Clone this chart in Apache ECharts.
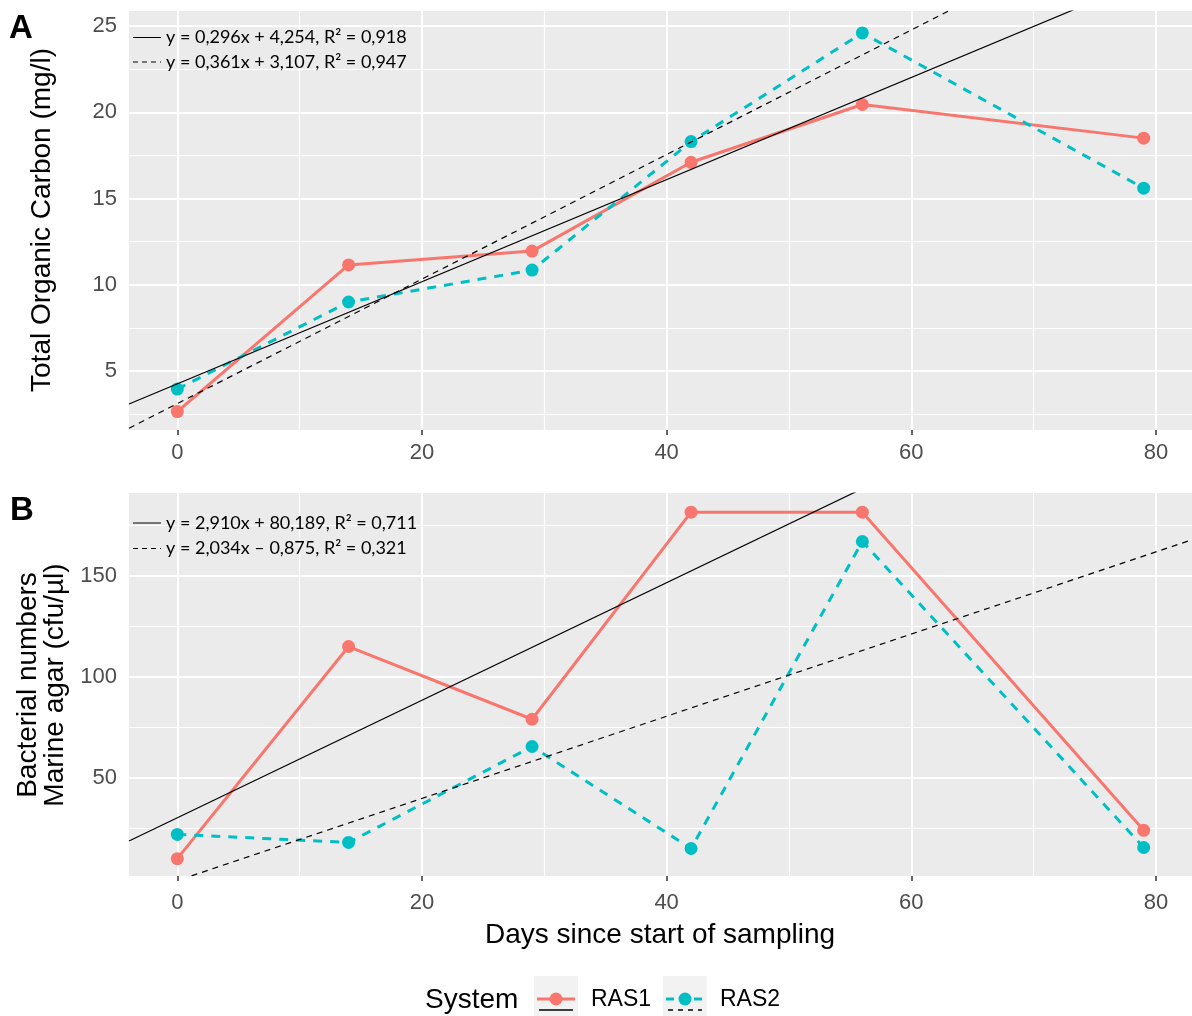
<!DOCTYPE html>
<html>
<head>
<meta charset="utf-8">
<script src="https://cdn.jsdelivr.net/npm/echarts@6/dist/echarts.min.js"></script>
<style>
  html, body { margin: 0; padding: 0; background: #ffffff; }
  #chart { width: 1192px; height: 1016px; }
</style>
</head>
<body>
<div id="chart"></div>
<script>
// Sampling days (shared by both panels)
const days = [0, 14, 29, 42, 56, 79];

// Panel A: total organic carbon (mg/l)
const tocRAS1 = [2.65, 11.15, 11.95, 17.1, 20.45, 18.5];
const tocRAS2 = [3.95, 9.0, 10.85, 18.3, 24.6, 15.6];

// Panel B: bacterial numbers on marine agar (cfu/µl)
const bactRAS1 = [10, 115, 79, 181.5, 181.5, 24];
const bactRAS2 = [22, 18, 65.5, 15, 167, 15.5];

// Linear fits (slope, intercept) for RAS1 (solid) and RAS2 (dashed)
const tocFitSlope = [0.296, 0.361];
const tocFitIntercept = [4.254, 3.107];
const bactFitSlope = [2.910, 2.034];
const bactFitIntercept = [30.189, -0.875];

// Fit annotations
const tocFitLabels = ['y = 0,296x + 4,254, R\u00B2 = 0,918', 'y = 0,361x + 3,107, R\u00B2 = 0,947'];
const bactFitLabels = ['y = 2,910x + 80,189, R\u00B2 = 0,711', 'y = 2,034x \u2013 0,875, R\u00B2 = 0,321'];

// Tick values and grid lines
const xTicks = [0, 20, 40, 60, 80];
const xMinor = [10, 30, 50, 70];
const tocTicks = [5, 10, 15, 20, 25];
const tocMinor = [2.5, 7.5, 12.5, 17.5, 22.5];
const bactTicks = [50, 100, 150];
const bactMinor = [25, 75, 125, 175];

// Axis ranges (ggplot-style 5% expansion)
const xRange = [-3.95, 82.95];
const tocRange = [1.58, 25.87];
const bactRange = [1.4, 191];

const RED = '#F8766D';
const CYAN = '#00BFC4';
const SANS = '"Liberation Sans", Arial, sans-serif';
const CAL = 'Lato, "Open Sans", sans-serif';

const chart = echarts.init(document.getElementById('chart'), null, { renderer: 'canvas' });

function pairs(xs, ys) { return xs.map((x, i) => [x, ys[i]]); }
function fitLine(slope, intercept) {
  return [[xRange[0], intercept + slope * xRange[0]], [xRange[1], intercept + slope * xRange[1]]];
}

function xAxisFor(gi, margin) {
  return {
    gridIndex: gi, type: 'value', min: xRange[0], max: xRange[1],
    axisLine: { show: false },
    axisTick: { show: true, length: 5, lineStyle: { color: '#333333', width: 1.5 }, customValues: xTicks },
    axisLabel: { customValues: xTicks, color: '#4D4D4D', fontSize: 22, fontFamily: SANS, margin: margin },
    splitLine: { show: false }
  };
}
function yAxisFor(gi, range, ticks) {
  return {
    gridIndex: gi, type: 'value', min: range[0], max: range[1],
    axisLine: { show: false },
    axisTick: { show: true, length: 5, lineStyle: { color: '#333333', width: 1.5 }, customValues: ticks },
    axisLabel: { customValues: ticks, color: '#4D4D4D', fontSize: 22, fontFamily: SANS, margin: 12 },
    splitLine: { show: false }
  };
}

// White panel grid lines drawn as mark lines on an empty helper series
function gridSeries(gi, yMajor, yMinorVals) {
  const data = [];
  xMinor.forEach(v => data.push({ xAxis: v, lineStyle: { width: 1.2 } }));
  yMinorVals.forEach(v => data.push({ yAxis: v, lineStyle: { width: 1.2 } }));
  xTicks.forEach(v => data.push({ xAxis: v, lineStyle: { width: 2 } }));
  yMajor.forEach(v => data.push({ yAxis: v, lineStyle: { width: 2 } }));
  return {
    type: 'line', xAxisIndex: gi, yAxisIndex: gi, data: [], z: 1, silent: true,
    markLine: {
      z: 1, silent: true, animation: false, symbol: ['none', 'none'],
      label: { show: false },
      lineStyle: { color: '#FFFFFF', type: 'solid' },
      emphasis: { disabled: true },
      data: data
    }
  };
}

function dataSeries(gi, name, values, color, dashed) {
  return {
    name: name, type: 'line', xAxisIndex: gi, yAxisIndex: gi, z: 3,
    data: pairs(days, values),
    symbol: 'circle', symbolSize: 13, showSymbol: true,
    itemStyle: { color: color, borderWidth: 0 },
    lineStyle: { color: color, width: 3, type: dashed ? [9, 8] : 'solid' },
    emphasis: { disabled: true }
  };
}

function fitSeries(gi, slope, intercept, dashed) {
  return {
    type: 'line', xAxisIndex: gi, yAxisIndex: gi, z: 4, clip: true,
    data: fitLine(slope, intercept),
    showSymbol: false, symbol: 'none',
    lineStyle: { color: '#000000', width: 1.2, type: dashed ? [6, 5] : 'solid' },
    emphasis: { disabled: true }, silent: true
  };
}

function txt(x, y, text, size, opts) {
  opts = opts || {};
  return {
    type: 'text', x: x, y: y, z: 100, rotation: opts.rotation || 0, silent: true,
    style: {
      text: text, fill: opts.fill || '#000000', fontSize: size,
      fontFamily: opts.family || SANS, fontWeight: opts.weight || 'normal',
      align: opts.align || 'left', verticalAlign: 'middle',
      textAlign: opts.align || 'left', textVerticalAlign: 'middle',
      lineHeight: opts.lineHeight
    }
  };
}
function seg(x1, y1, x2, y2, color, width, dash) {
  return {
    type: 'line', silent: true, z: 100,
    shape: { x1: x1, y1: y1, x2: x2, y2: y2 },
    style: { stroke: color, lineWidth: width, lineDash: dash || null }
  };
}

// Fit annotation block: short line sample + equation text
function fitAnnotation(y1, y2, labels) {
  return [
    seg(133, y1, 161, y1, '#000000', 1),
    txt(166, y1, labels[0], 18, { family: CAL }),
    seg(133, y2, 161, y2, '#000000', 1, [5, 4]),
    txt(166, y2, labels[1], 18, { family: CAL })
  ];
}

// Legend: colour + fit line type per system
function legendKey(x, color, dashed, label) {
  return [
    { type: 'rect', silent: true, z: 100, shape: { x: x, y: 976, width: 44, height: 40 }, style: { fill: '#F2F2F2' } },
    seg(x + 3, 999, x + 41, 999, color, 3, dashed ? [8, 6] : null),
    { type: 'circle', silent: true, z: 101, shape: { cx: x + 22, cy: 999, r: 6.5 }, style: { fill: color } },
    seg(x + 5, 1010, x + 39, 1010, '#000000', 1.5, dashed ? [5, 5] : null),
    txt(x + 57, 1000, label, 23)
  ];
}

const option = {
  animation: false,
  backgroundColor: '#FFFFFF',
  grid: [
    { left: 129, top: 11, width: 1063, height: 419, show: true, backgroundColor: '#EBEBEB', borderWidth: 0, containLabel: false, outerBoundsMode: 'none' },
    { left: 129, top: 493, width: 1063, height: 383, show: true, backgroundColor: '#EBEBEB', borderWidth: 0, containLabel: false, outerBoundsMode: 'none' }
  ],
  xAxis: [xAxisFor(0, 12), xAxisFor(1, 16)],
  yAxis: [yAxisFor(0, tocRange, tocTicks), yAxisFor(1, bactRange, bactTicks)],
  series: [
    gridSeries(0, tocTicks, tocMinor),
    gridSeries(1, bactTicks, bactMinor),
    dataSeries(0, 'RAS1', tocRAS1, RED, false),
    dataSeries(0, 'RAS2', tocRAS2, CYAN, true),
    dataSeries(1, 'RAS1', bactRAS1, RED, false),
    dataSeries(1, 'RAS2', bactRAS2, CYAN, true),
    fitSeries(0, tocFitSlope[0], tocFitIntercept[0], false),
    fitSeries(0, tocFitSlope[1], tocFitIntercept[1], true),
    fitSeries(1, bactFitSlope[0], bactFitIntercept[0], false),
    fitSeries(1, bactFitSlope[1], bactFitIntercept[1], true)
  ],
  graphic: {
    elements: [
      txt(21, 29, 'A', 33, { weight: 'bold', align: 'center' }),
      txt(22, 511, 'B', 33, { weight: 'bold', align: 'center' }),
      txt(42, 220, 'Total Organic Carbon (mg/l)', 28, { align: 'center', rotation: Math.PI / 2 }),
      txt(41.5, 685, 'Bacterial numbers\nMarine agar (cfu/\u00B5l)', 28, { align: 'center', rotation: Math.PI / 2, lineHeight: 27 }),
      txt(660, 935, 'Days since start of sampling', 28, { align: 'center' }),
      txt(425, 1000, 'System', 28)
    ]
    .concat(fitAnnotation(37.5, 62, tocFitLabels))
    .concat(fitAnnotation(523, 548.5, bactFitLabels))
    .concat(legendKey(534, RED, false, 'RAS1'))
    .concat(legendKey(663, CYAN, true, 'RAS2'))
  }
};

chart.setOption(option);
</script>
</body>
</html>
